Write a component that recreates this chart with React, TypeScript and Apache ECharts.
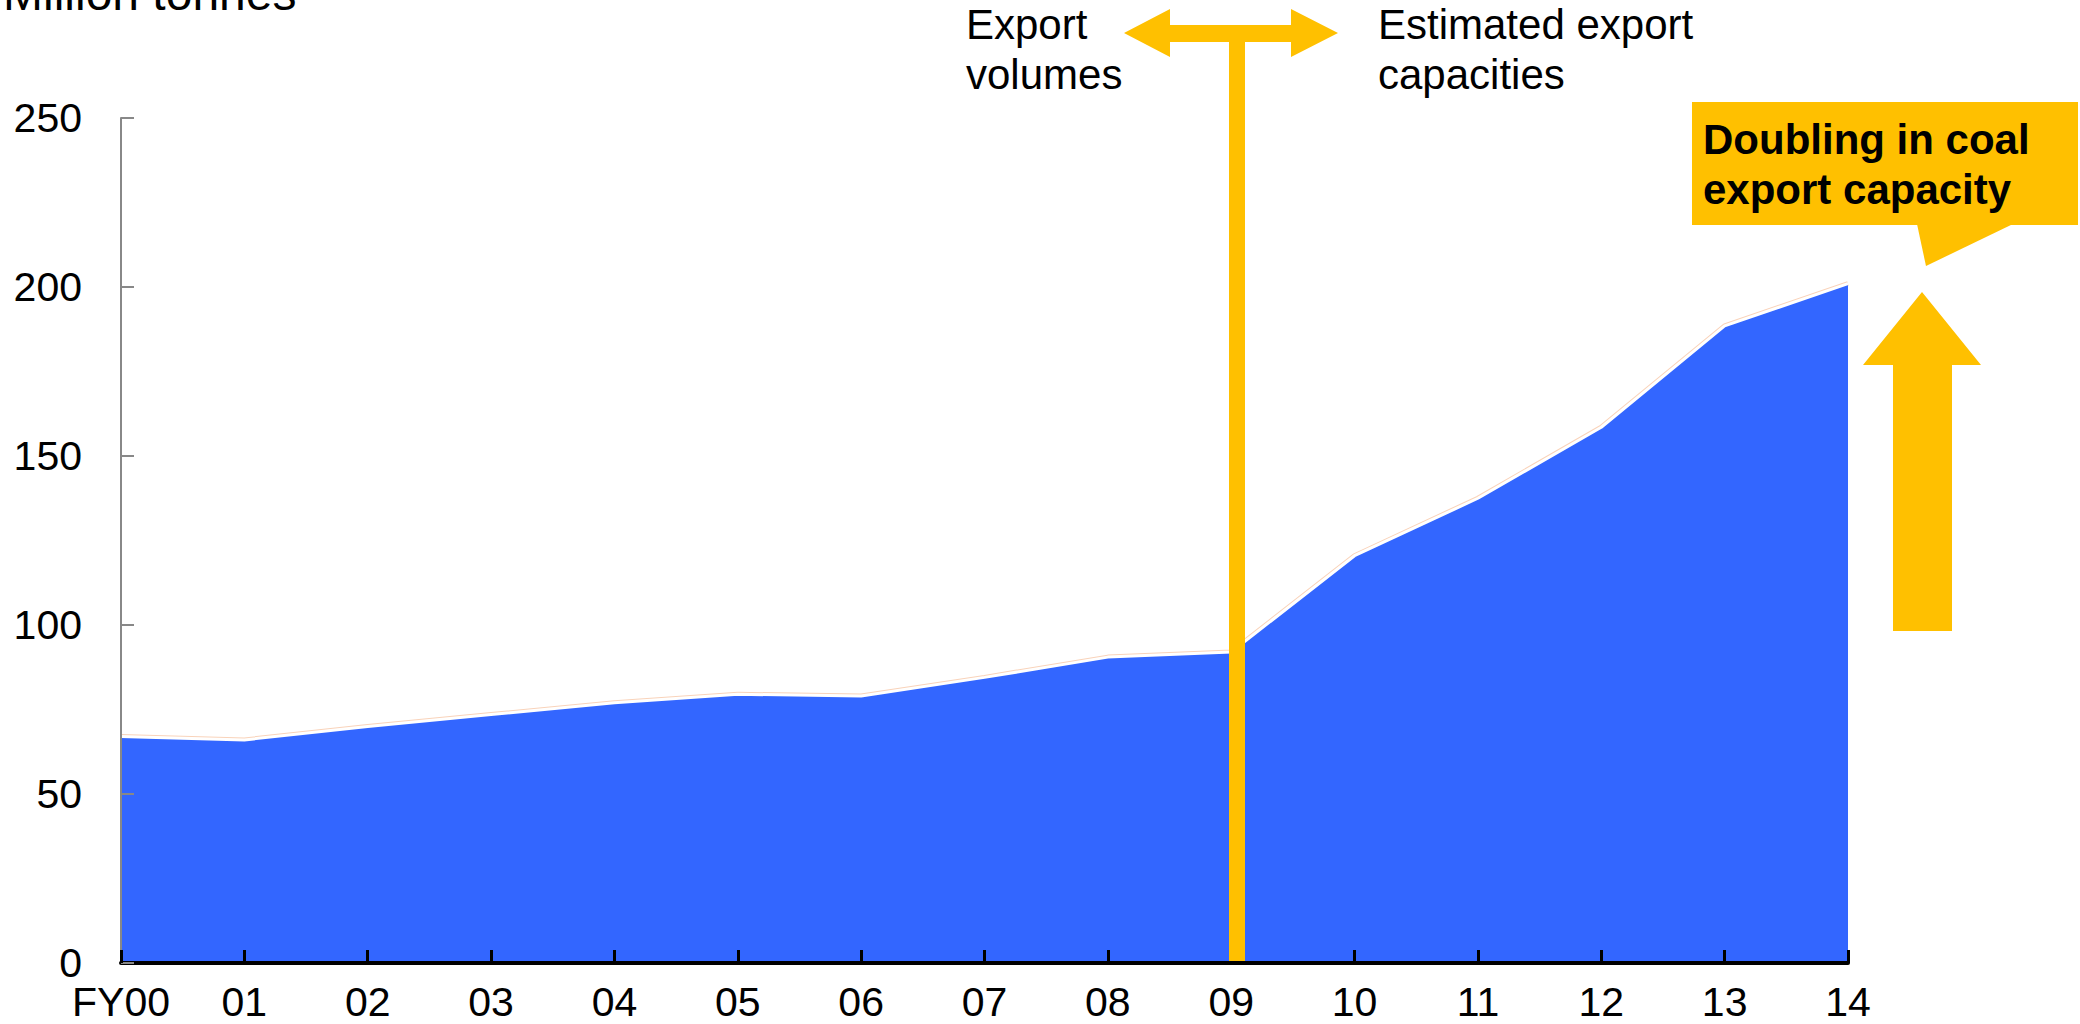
import React, { useEffect, useRef } from "react";
import * as echarts from "echarts";

// ---- Data ----
const categories = ["FY00", "01", "02", "03", "04", "05", "06", "07", "08", "09", "10", "11", "12", "13", "14"];
// Million tonnes: actual export volumes (FY00-09) and estimated export capacities (FY10-14)
const exportValues = [67, 66, 70, 73.5, 77, 79.5, 79, 84.5, 90.5, 92, 120.5, 137.5, 158.5, 188.5, 201];
const yMin = 0;
const yMax = 250;
const yInterval = 50;

const unitLabel = "Million tonnes";
const leftNote = "Export\nvolumes";
const rightNote = "Estimated export\ncapacities";
const calloutText = "Doubling in coal\nexport capacity";

const FONT = "'Liberation Sans', Arial, Helvetica, sans-serif";
const GOLD = "#FFC000";
const BLUE = "#3366FF";

export default function App() {
  const ref = useRef<HTMLDivElement>(null);

  useEffect(() => {
    if (!ref.current) return;
    const chart = echarts.init(ref.current, undefined, { renderer: "svg" });
    chart.setOption({
      animation: false,
      backgroundColor: "#ffffff",
      grid: { left: 121, right: 232, top: 118, bottom: 61, containLabel: false },
      xAxis: {
        type: "category",
        data: categories,
        boundaryGap: false,
        z: 5,
        axisLine: { show: true, lineStyle: { color: "#000000", width: 4 } },
        axisTick: { show: true, inside: false, length: -13, lineStyle: { color: "#000000", width: 3 } },
        axisLabel: {
          color: "#000000",
          fontFamily: FONT,
          fontSize: 41,
          lineHeight: 41,
          margin: 18,
          interval: 0,
        },
        splitLine: { show: false },
      },
      yAxis: {
        type: "value",
        min: yMin,
        max: yMax,
        interval: yInterval,
        z: 5,
        axisLine: { show: true, lineStyle: { color: "#888888", width: 2 } },
        axisTick: { show: true, inside: false, length: -13, lineStyle: { color: "#888888", width: 2 } },
        axisLabel: { color: "#000000", fontFamily: FONT, fontSize: 41, margin: 39 },
        splitLine: { show: false },
      },
      series: [
        {
          type: "line",
          data: exportValues,
          symbol: "none",
          z: 1,
          lineStyle: { color: "#F9D3BA", width: 5 },
        },
        {
          type: "line",
          data: exportValues,
          symbol: "none",
          z: 2,
          lineStyle: { color: "#ffffff", width: 3 },
          areaStyle: { color: BLUE, opacity: 1 },
        },
      ],
      graphic: [
        {
          type: "text",
          z: 100,
          x: 3,
          y: -7,
          style: { text: unitLabel, font: `48px ${FONT}`, fill: "#000000", align: "left", verticalAlign: "middle" },
        },
        {
          type: "text",
          z: 100,
          x: 966,
          y: 49,
          style: {
            text: leftNote,
            font: `42px ${FONT}`,
            lineHeight: 50,
            fill: "#000000",
            align: "left",
            verticalAlign: "middle",
          },
        },
        {
          type: "text",
          z: 100,
          x: 1378,
          y: 49,
          style: {
            text: rightNote,
            font: `42px ${FONT}`,
            lineHeight: 50,
            fill: "#000000",
            align: "left",
            verticalAlign: "middle",
          },
        },
        // vertical divider bar at FY09
        {
          type: "rect",
          z: 100,
          shape: { x: 1229, y: 30, width: 16, height: 931 },
          style: { fill: GOLD },
        },
        // double-headed arrow
        {
          type: "polygon",
          z: 100,
          shape: {
            points: [
              [1124, 33],
              [1170, 9],
              [1170, 25],
              [1291, 25],
              [1291, 9],
              [1338, 33],
              [1291, 57],
              [1291, 42],
              [1170, 42],
              [1170, 57],
            ],
          },
          style: { fill: GOLD },
        },
        // callout box
        {
          type: "rect",
          z: 100,
          shape: { x: 1692, y: 102, width: 386, height: 123 },
          style: { fill: GOLD },
        },
        {
          type: "polygon",
          z: 100,
          shape: { points: [[1917, 224], [2013, 224], [1926, 266]] },
          style: { fill: GOLD },
        },
        {
          type: "text",
          z: 101,
          x: 1703,
          y: 164,
          style: {
            text: calloutText,
            font: `bold 42px ${FONT}`,
            lineHeight: 50,
            fill: "#000000",
            align: "left",
            verticalAlign: "middle",
          },
        },
        // up arrow
        {
          type: "polygon",
          z: 100,
          shape: {
            points: [
              [1922, 292],
              [1981, 365],
              [1952, 365],
              [1952, 631],
              [1893, 631],
              [1893, 365],
              [1863, 365],
            ],
          },
          style: { fill: GOLD },
        },
      ],
    });
    return () => chart.dispose();
  }, []);

  return (
    <div
      ref={ref}
      style={{ position: "fixed", left: 0, top: 0, width: 2080, height: 1024, background: "#ffffff" }}
    />
  );
}
